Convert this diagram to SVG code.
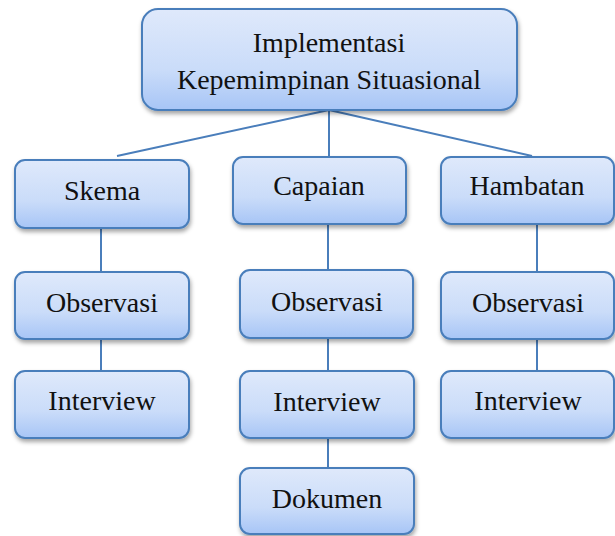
<svg xmlns="http://www.w3.org/2000/svg" width="615" height="536" viewBox="0 0 615 536">
<defs>
<linearGradient id="g" x1="0" y1="0" x2="0" y2="1">
<stop offset="0" stop-color="#dfe9fb"/>
<stop offset="0.6" stop-color="#cadcf9"/>
<stop offset="1" stop-color="#a7c5f6"/>
</linearGradient>
<filter id="sh" x="-10%" y="-10%" width="130%" height="140%">
<feDropShadow dx="1" dy="3" stdDeviation="2" flood-color="#000" flood-opacity="0.35"/>
</filter>
</defs>
<style>
.b{fill:url(#g);stroke:#4a7ebb;stroke-width:2;filter:url(#sh)}
.t{font-family:"Liberation Serif","DejaVu Serif",serif;font-size:28px;fill:#111;text-anchor:middle}
.c{stroke:#4a7ebb;stroke-width:2;fill:none}
</style>
<rect width="615" height="536" fill="#fff"/>
<g id="connectors">
<line class="c" x1="329" y1="110" x2="117" y2="156"/>
<line class="c" x1="329" y1="110" x2="329" y2="157"/>
<line class="c" x1="329" y1="110" x2="532" y2="156"/>
<line class="c" x1="101" y1="228" x2="101" y2="272"/>
<line class="c" x1="101" y1="339" x2="101" y2="371"/>
<line class="c" x1="328" y1="224" x2="328" y2="270"/>
<line class="c" x1="328" y1="338" x2="328" y2="371"/>
<line class="c" x1="328" y1="438" x2="328" y2="468"/>
<line class="c" x1="537" y1="224" x2="537" y2="272"/>
<line class="c" x1="537" y1="339" x2="537" y2="371"/>
</g>
<g id="root">
<rect class="b" x="142" y="9" width="375" height="101" rx="16"/>
<text class="t" x="329" y="52">Implementasi</text>
<text class="t" x="329" y="89">Kepemimpinan Situasional</text>
</g>
<g id="skema">
<rect class="b" x="15" y="160" width="174" height="68" rx="10"/>
<text class="t" x="102" y="200">Skema</text>
</g>
<g id="capaian">
<rect class="b" x="233" y="157" width="173" height="67" rx="10"/>
<text class="t" x="319" y="195">Capaian</text>
</g>
<g id="hambatan">
<rect class="b" x="441" y="157" width="173" height="67" rx="10"/>
<text class="t" x="527" y="195">Hambatan</text>
</g>
<g id="obs1">
<rect class="b" x="15" y="272" width="174" height="67" rx="10"/>
<text class="t" x="102" y="312">Observasi</text>
</g>
<g id="obs2">
<rect class="b" x="240" y="270" width="173" height="68" rx="10"/>
<text class="t" x="327" y="311">Observasi</text>
</g>
<g id="obs3">
<rect class="b" x="441" y="272" width="173" height="67" rx="10"/>
<text class="t" x="528" y="312">Observasi</text>
</g>
<g id="int1">
<rect class="b" x="15" y="371" width="174" height="67" rx="10"/>
<text class="t" x="102" y="410">Interview</text>
</g>
<g id="int2">
<rect class="b" x="240" y="371" width="174" height="67" rx="10"/>
<text class="t" x="327" y="411">Interview</text>
</g>
<g id="int3">
<rect class="b" x="441" y="371" width="173" height="67" rx="10"/>
<text class="t" x="528" y="410">Interview</text>
</g>
<g id="dokumen">
<rect class="b" x="240" y="468" width="174" height="66" rx="10"/>
<text class="t" x="327" y="508">Dokumen</text>
</g>
</svg>
